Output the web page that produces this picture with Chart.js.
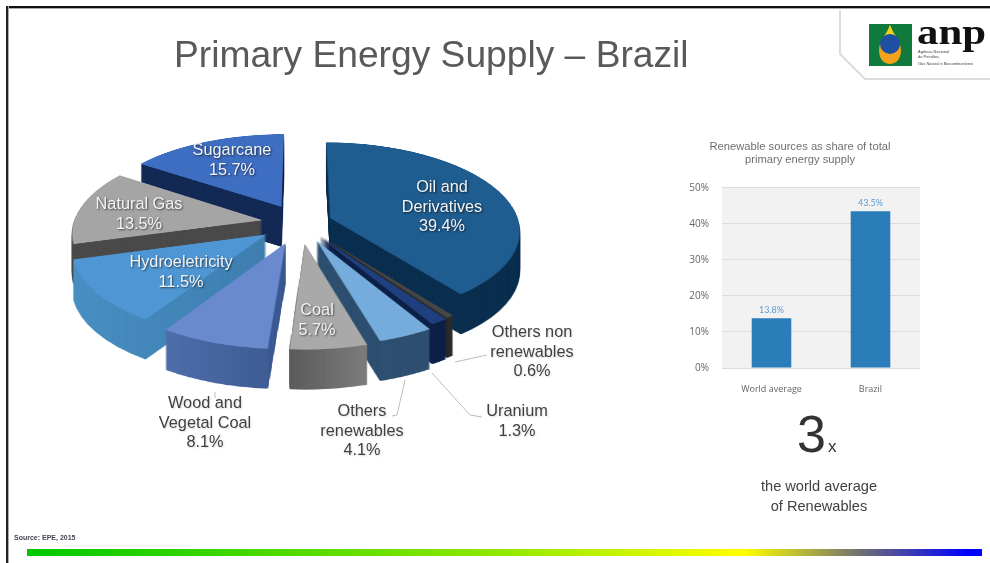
<!DOCTYPE html>
<html>
<head>
<meta charset="utf-8">
<style>
    html, body { margin: 0; background: #fff; }
    body { width: 990px; height: 563px; overflow: hidden; position: relative; font-family: "Liberation Sans", Arial, sans-serif; }
    #page { position: absolute; inset: 0; filter: blur(0.5px); }
    canvas { position: absolute; }
    #pieChart { left: 0; top: 0; }
    #barChart { left: 680px; top: 135px; }
    .frame-top { position: absolute; left: 6px; right: 0; top: 6px; height: 2px; background: #111; box-shadow: 0 1px 0 #aaa; }
    .frame-left { position: absolute; left: 6px; top: 6px; bottom: 0; width: 2px; background: #222; box-shadow: 1px 0 0 #aaa; }
    .title { position: absolute; left: 174px; top: 33px; font-size: 37.2px; color: #595959; white-space: nowrap; }
    .source { position: absolute; left: 14px; top: 534px; font-size: 7px; font-weight: bold; color: #445; }
    .rainbow { position: absolute; left: 27px; top: 549px; width: 955px; height: 7px; background: linear-gradient(90deg, #00c800 0%, #90e800 49.5%, #ffff00 75%, #707070 87.2%, #0000ff 98.4%); }
    .big3 { position: absolute; left: 797px; top: 404px; font-size: 52px; color: #333; }
    .bigx { position: absolute; left: 828px; top: 437px; font-size: 17px; color: #333; }
    .times { position: absolute; left: 719px; width: 200px; top: 476px; text-align: center; font-size: 14.6px; line-height: 20px; color: #404040; }
    svg { position: absolute; left: 830px; top: 0; }
</style>
</head>
<body>
<div id="page">
    <div class="frame-top"></div>
    <div class="frame-left"></div>
    <div class="title">Primary Energy Supply – Brazil</div>
    <svg width="160" height="90" viewBox="0 0 160 90">
        <path d="M10 10 V54 L35 79 H160" fill="none" stroke="#dcdcdc" stroke-width="2"/>
        <rect x="39" y="24" width="43" height="42" fill="#0f7a3c"/>
        <path d="M60 25 C56 36 49 42 49 50 C49 59 54 64 60 64 C66 64 71 59 71 50 C71 42 64 36 60 25 Z" fill="#f4a11c"/>
        <path d="M60 25 C57 33 54 36 52 40 H68 C66 36 63 33 60 25 Z" fill="#f2d21a"/>
        <circle cx="60" cy="44" r="10" fill="#1d50a0"/>
        <text x="87" y="44" font-family="Liberation Serif" font-weight="bold" font-size="36" fill="#111" textLength="69" lengthAdjust="spacingAndGlyphs">anp</text>
        <text x="88" y="53" font-family="Liberation Sans" font-size="4" fill="#444">Agência Nacional</text>
        <text x="88" y="58" font-family="Liberation Sans" font-size="4" fill="#444">do Petróleo,</text>
        <text x="88" y="65" font-family="Liberation Sans" font-size="4" fill="#444">Gás Natural e Biocombustíveis</text>
    </svg>
    <canvas id="pieChart" width="990" height="563"></canvas>
    <canvas id="barChart" width="240" height="260"></canvas>
    <div class="big3">3</div>
    <div class="bigx">x</div>
    <div class="times">the world average<br>of Renewables</div>
    <div class="source">Source: EPE, 2015</div>
    <div class="rainbow"></div>
</div>

<script src="https://cdn.jsdelivr.net/npm/chart.js@4/dist/chart.umd.min.js"></script>
<script>
'use strict'

// pie data, clockwise from the top
const gSources = ['Oil and Derivatives', 'Others non renewables', 'Uranium', 'Others renewables', 'Coal', 'Wood and Vegetal Coal', 'Hydroeletricity', 'Natural Gas', 'Sugarcane']
const gShares = [39.4, 0.6, 1.3, 4.1, 5.7, 8.1, 11.5, 13.5, 15.7]

// bar data
const gBarLabels = ['World average', 'Brazil']
const gBarValues = [13.8, 43.5]
const gBarTitle = ['Renewable sources as share of total', 'primary energy supply']

// pie looks
const gTopColors = ['#1f5c8f', '#454545', '#1f3f7f', '#75acdc', '#a9a9a9', '#6a8ad0', '#4f97d4', '#a5a5a5', '#3e6ec1']
const gWallLeft = ['#0b2f4f', '#2a2a2a', '#0e2148', '#2f5070', '#5c5c5c', '#506eaa', '#4a90c4', '#4a4a4a', '#132a55']
const gWallRight = ['#0b2f4f', '#2a2a2a', '#0e2148', '#2f5070', '#7d7d7d', '#3c5a92', '#3f7fb0', '#4a4a4a', '#132a55']
const gPull = [32, 33, 34, 40, 43, 44, 41, 38, 40]
const WALL_DEPTH = 40
const SQUASH = 0.47
const PERSPECTIVE = 0.0007

// label lines and where they go on the page
const gLabelLines = [['Oil and', 'Derivatives'], ['Others non', 'renewables'], ['Uranium'], ['Others', 'renewables'], ['Coal'], ['Wood and', 'Vegetal Coal'], ['Hydroeletricity'], ['Natural Gas'], ['Sugarcane']]
const gLabelSpots = [[442, 188], [532, 333], [517, 412], [362, 412], [317, 311], [205, 404], [181, 263], [139, 205], [232, 151]]
const gLabelInside = [true, false, false, false, true, false, true, true, true]
const gLeaders = [
    [[405, 380], [397, 415], [392, 416]],
    [[432, 373], [470, 415], [482, 417]],
    [[455, 362], [487, 355]],
    [[215, 392], [215, 398]]
]

function makeLayer(width, height) {
    const canvas = document.createElement('canvas')
    canvas.width = width
    canvas.height = height
    return canvas
}

// draws the arc flat and pulled out, then copies it row by row into a tilted view
function tiltArc(chart, arc, pull, fill) {
    const { width, height } = chart
    const cx = (chart.chartArea.left + chart.chartArea.right) / 2
    const cy = (chart.chartArea.top + chart.chartArea.bottom) / 2
    const midAngle = (arc.startAngle + arc.endAngle) / 2
    const flat = makeLayer(width, height + 200)
    const flatCtx = flat.getContext('2d')
    flatCtx.translate(Math.cos(midAngle) * pull, 100 + Math.sin(midAngle) * pull)

    const topOptions = arc.options
    arc.options = Object.assign({}, topOptions, { backgroundColor: fill(flatCtx) })
    arc.draw(flatCtx)
    arc.options = topOptions

    const tilted = makeLayer(width, height)
    const tiltedCtx = tilted.getContext('2d')
    for (let row = 0; row < height; row++) {
        const squashed = (row + 0.5 - cy) / SQUASH
        const inner = 1 + 4 * PERSPECTIVE * squashed
        if (inner <= 0) continue
        const dy = (Math.sqrt(inner) - 1) / (2 * PERSPECTIVE)
        const scale = 1 + PERSPECTIVE * dy
        const srcY = cy + dy + 100 - 0.5
        if (srcY < 0 || srcY > flat.height - 1) continue
        tiltedCtx.drawImage(flat, 0, srcY, width, 1, cx - cx * scale, row, width * scale, 1)
    }
    return tilted
}

function midSin(arc) {
    return Math.sin((arc.startAngle + arc.endAngle) / 2)
}

const pie3dPlugin = {
    id: 'pie3d',
    beforeDatasetsDraw(chart) {
        const ctx = chart.ctx
        const arcs = chart.getDatasetMeta(0).data
        // paint back slices first
        const order = arcs.map((arc, idx) => idx)
        order.sort((a, b) => midSin(arcs[a]) - midSin(arcs[b]))
        order.forEach(idx => {
            const arc = arcs[idx]
            const wall = tiltArc(chart, arc, gPull[idx], flatCtx => {
                const xs = [arc.x, arc.x + arc.outerRadius * Math.cos(arc.startAngle), arc.x + arc.outerRadius * Math.cos(arc.endAngle)]
                const grad = flatCtx.createLinearGradient(Math.min(...xs), 0, Math.max(...xs), 0)
                grad.addColorStop(0, gWallLeft[idx])
                grad.addColorStop(1, gWallRight[idx])
                return grad
            })
            for (let d = WALL_DEPTH; d > 0; d--) ctx.drawImage(wall, 0, d)
            ctx.drawImage(tiltArc(chart, arc, gPull[idx], () => gTopColors[idx]), 0, 0)
        })
        return false
    },
    afterDraw(chart) {
        const ctx = chart.ctx
        ctx.save()
        ctx.strokeStyle = '#bdbdbd'
        ctx.lineWidth = 1
        gLeaders.forEach(points => {
            ctx.beginPath()
            points.forEach((pt, idx) => idx ? ctx.lineTo(pt[0], pt[1]) : ctx.moveTo(pt[0], pt[1]))
            ctx.stroke()
        })
        ctx.font = '16.3px "Liberation Sans"'
        ctx.textAlign = 'center'
        ctx.textBaseline = 'middle'
        gLabelLines.forEach((lines, idx) => {
            const allLines = lines.concat(gShares[idx].toFixed(1) + '%')
            const inside = gLabelInside[idx]
            ctx.fillStyle = inside ? '#f4f4f4' : '#404040'
            ctx.shadowColor = inside ? 'rgba(0,0,0,0.6)' : 'rgba(0,0,0,0.15)'
            ctx.shadowBlur = 2
            ctx.shadowOffsetX = 1
            ctx.shadowOffsetY = 1
            allLines.forEach((line, lineIdx) => {
                ctx.fillText(line, gLabelSpots[idx][0], gLabelSpots[idx][1] + lineIdx * 19.5)
            })
        })
        ctx.restore()
    }
}

const barLooksPlugin = {
    id: 'barLooks',
    beforeDraw(chart) {
        const { ctx, chartArea } = chart
        ctx.save()
        ctx.fillStyle = '#f2f2f2'
        ctx.fillRect(chartArea.left, chartArea.top, chartArea.width, chartArea.height)
        ctx.restore()
    },
    afterDatasetsDraw(chart) {
        const ctx = chart.ctx
        ctx.save()
        ctx.fillStyle = '#5b9bd5'
        ctx.font = '9px Lato'
        ctx.textAlign = 'center'
        chart.getDatasetMeta(0).data.forEach((bar, idx) => {
            ctx.fillText(gBarValues[idx].toFixed(1) + '%', bar.x, bar.y - 5)
        })
        ctx.restore()
    }
}

function onInit() {
    renderPie()
    renderBars()
}

function renderPie() {
    new Chart(document.getElementById('pieChart'), {
        type: 'pie',
        data: {
            labels: gSources,
            datasets: [{
                data: gShares,
                backgroundColor: gTopColors,
                borderWidth: 0
            }]
        },
        options: {
            responsive: false,
            animation: false,
            radius: 189,
            layout: { padding: { right: 390, bottom: 117 } },
            plugins: { legend: { display: false }, tooltip: { enabled: false } }
        },
        plugins: [pie3dPlugin]
    })
}

function renderBars() {
    new Chart(document.getElementById('barChart'), {
        type: 'bar',
        data: {
            labels: gBarLabels,
            datasets: [{
                data: gBarValues,
                backgroundColor: '#2a7db8',
                barPercentage: 0.4,
                categoryPercentage: 1
            }]
        },
        options: {
            responsive: false,
            animation: false,
            plugins: {
                legend: { display: false },
                tooltip: { enabled: false },
                title: {
                    display: true,
                    text: gBarTitle,
                    color: '#6f6f6f',
                    font: { family: 'Liberation Sans', size: 11.2, weight: 'normal', lineHeight: 1.2 },
                    padding: { top: 5, bottom: 21 }
                }
            },
            scales: {
                x: {
                    grid: { display: false },
                    border: { display: false },
                    afterFit: scale => { scale.height = 27 },
                    ticks: { color: '#666', font: { family: 'Open Sans', size: 9 }, padding: 8 }
                },
                y: {
                    min: 0,
                    max: 50,
                    grid: { color: '#dcdcdc', drawTicks: false },
                    border: { display: false },
                    afterFit: scale => { scale.width = 42 },
                    ticks: {
                        stepSize: 10,
                        color: '#666',
                        font: { family: 'Open Sans', size: 10 },
                        padding: 13,
                        callback: value => value + '%'
                    }
                }
            }
        },
        plugins: [barLooksPlugin]
    })
}

onInit()
</script>
</body>
</html>
